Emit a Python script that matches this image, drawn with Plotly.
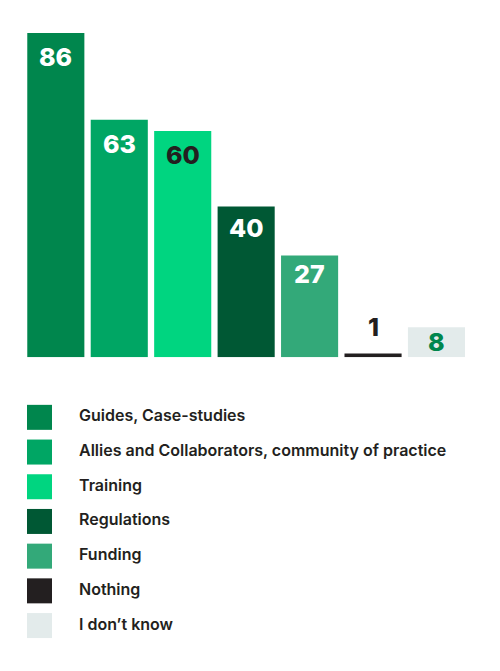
"""
plot.py
Gráfico de barras com legenda em quadrados grandes (Plotly).
"""

import plotly.graph_objects as go

# --- Dados ---
categorias = [
    "Guides, Case-studies",
    "Allies and Collaborators, community of practice",
    "Training",
    "Regulations",
    "Funding",
    "Nothing",
    "I don’t know",
]
valores = [86, 63, 60, 40, 27, 1, 8]

# --- Estilo ---
cores = ["#00864d", "#00a664", "#00d580", "#005834", "#33a979", "#231f20", "#e3ebeb"]
cores_texto = ["#ffffff", "#ffffff", "#231f20", "#ffffff", "#ffffff", "#231f20", "#00864d"]
TINTA = "#231f20"
FONTE = "Inter"

# a página tem 8px de margem no body: o gráfico fica deslocado
OFF = 8
W, H = 500 - OFF, 671 - OFF
BASE_PX, TOPO_PX = 357.3 - OFF, 33.0 - OFF   # linha de base e topo da barra maior
Y_MAX = max(valores)
PX_POR_UNID = (BASE_PX - TOPO_PX) / Y_MAX

LEG_TOPO_PX, LEG_PASSO = 400.0 - OFF, 34.7   # legenda

fig = go.Figure()

fig.add_trace(go.Bar(
    x=categorias,
    y=valores,
    marker=dict(color=cores, line=dict(width=0)),
    xaxis="x", yaxis="y",
    hoverinfo="x+y",
    showlegend=False,
))

# rótulos de valor
for cat, v, cor in zip(categorias, valores, cores_texto):
    h = v * PX_POR_UNID
    if h < 20:
        fig.add_annotation(x=cat, y=v, xref="x", yref="y", text=str(v),
                           showarrow=False, yanchor="bottom", yshift=10,
                           font=dict(family=FONTE, size=25, color=cor, weight=800))
    else:
        desloc = min(24, 13 + 0.055 * h)
        fig.add_annotation(x=cat, y=v, xref="x", yref="y", text=str(v),
                           showarrow=False, yanchor="middle", yshift=-desloc,
                           font=dict(family=FONTE, size=25, color=cor, weight=800))

# legenda desenhada como quadrados + texto
idx = list(range(len(categorias)))
fig.add_trace(go.Scatter(
    x=[39.5 - OFF] * len(categorias),
    y=idx,
    mode="markers",
    marker=dict(symbol="square", size=25, color=cores, line=dict(width=0)),
    xaxis="x2", yaxis="y2",
    hoverinfo="skip",
    showlegend=False,
))
fig.add_trace(go.Scatter(
    x=[79 - OFF] * len(categorias),
    y=idx,
    mode="text",
    text=categorias,
    textposition="middle right",
    textfont=dict(family=FONTE, size=16, color=TINTA, weight=600),
    xaxis="x2", yaxis="y2",
    hoverinfo="skip",
    showlegend=False,
))

n = len(categorias)
leg_base_px = LEG_TOPO_PX + n * LEG_PASSO

fig.update_layout(
    width=W, height=H,
    margin=dict(l=0, r=0, t=0, b=0),
    paper_bgcolor="white",
    plot_bgcolor="white",
    bargap=0.1,
    xaxis=dict(domain=[(24.1 - OFF) / W, (468.2 - OFF) / W], visible=False, fixedrange=True),
    yaxis=dict(domain=[1 - BASE_PX / H, 1 - TOPO_PX / H], range=[0, Y_MAX],
               visible=False, fixedrange=True),
    xaxis2=dict(domain=[0, 1], range=[0, W], visible=False, anchor="y2", fixedrange=True),
    yaxis2=dict(domain=[1 - leg_base_px / H, 1 - LEG_TOPO_PX / H],
                range=[n - 0.5, -0.5], visible=False, anchor="x2", fixedrange=True),
    font=dict(family=FONTE, color=TINTA),
)

fig.write_html("out.html")
